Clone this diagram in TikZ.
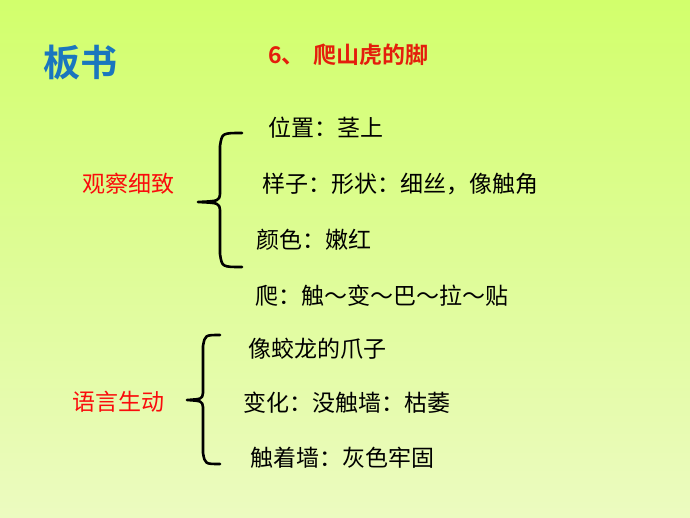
\documentclass[tikz,border=0pt]{standalone}
\usepackage{fontspec}
\setmainfont{Noto Sans CJK SC}
\newfontfamily\cjkbold{Noto Sans CJK SC Bold}
\definecolor{bgtop}{RGB}{210,255,108}
\definecolor{bgmid}{RGB}{222,252,150}
\definecolor{bgbot}{RGB}{236,251,192}
\definecolor{titleblue}{RGB}{26,118,190}
\definecolor{titlered}{RGB}{228,30,12}
\definecolor{labred}{RGB}{250,12,12}
\tikzset{
  item/.style={anchor=west, inner sep=0pt, font=\fontsize{23}{27}\selectfont, text=black},
  lab/.style={anchor=west, inner sep=0pt, font=\fontsize{23}{27}\selectfont, text=labred},
  bracket/.style={draw=black, line width=2.6pt, line cap=round, line join=round}
}
\begin{document}
\begin{tikzpicture}[x=1pt,y=-1pt]
\useasboundingbox (0,0) rectangle (690,517);
\shade[top color=bgtop, bottom color=bgbot, middle color=bgmid] (0,0) rectangle (690,517);

\node[anchor=west, inner sep=0pt, font=\cjkbold\fontsize{37}{42}\selectfont, text=titleblue] (bs) at (43,63) {板书};
\node[anchor=west, inner sep=0pt, font=\cjkbold\fontsize{23}{27}\selectfont, text=titlered] (tt) at (268,55) {6、\hspace{9pt}爬山虎的脚};

\node[lab] (gc) at (82,184) {观察细致};
\node[item] (a1) at (268,128) {位置：茎上};
\node[item] (a2) at (262,184) {样子：形状：细丝，像触角};
\node[item] (a3) at (256,240) {颜色：嫩红};
\node[item] (a4) at (255,296) {爬：触～变～巴～拉～贴};

\coordinate (b1t) at (242,133);
\coordinate (b1m) at (198,202);
\coordinate (b1b) at (242,267);
\draw[bracket] (b1t) .. controls (222,133) .. (220,146) -- (220,194)
  .. controls (219,201) .. (b1m) .. controls (219,203) .. (220,210)
  -- (220,254) .. controls (222,267) .. (b1b);

\node[lab] (yy) at (72,402) {语言生动};
\node[item] (c1) at (248,349) {像蛟龙的爪子};
\node[item] (c2) at (243,403) {变化：没触墙：枯萎};
\node[item] (c3) at (250,458) {触着墙：灰色牢固};

\coordinate (b2t) at (220,335);
\coordinate (b2m) at (187,400);
\coordinate (b2b) at (220,464);
\draw[bracket] (b2t) .. controls (205,335) .. (203,346) -- (203,393)
  .. controls (202,399) .. (b2m) .. controls (202,401) .. (203,407)
  -- (203,453) .. controls (205,464) .. (b2b);
\end{tikzpicture}
\end{document}
